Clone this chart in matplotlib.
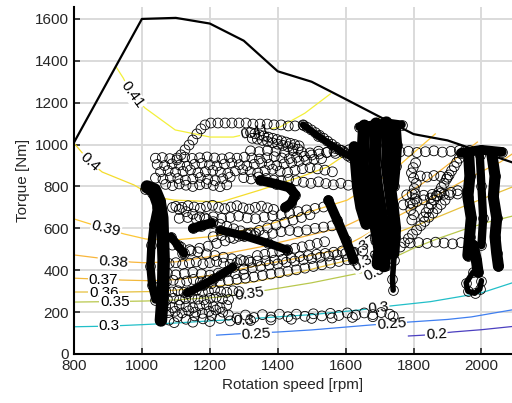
import numpy as np
import matplotlib.pyplot as plt

plt.rcParams['font.family'] = ['Liberation Sans', 'DejaVu Sans']

# full load (max torque) curve
max_rpm = [800, 1000, 1100, 1200, 1300, 1400, 1500, 1600, 1700, 1800, 1900, 2000, 2100]
max_nm = [1010, 1600, 1605, 1578, 1496, 1350, 1300, 1217, 1133, 1050, 1020, 965, 910]

# iso-efficiency lines (rpm, Nm)
levels = [0.2, 0.25, 0.3, 0.35, 0.36, 0.37, 0.38, 0.39, 0.4, 0.41]
eff_colors = ['#4b3fc0', '#3f7ff0', '#22bfc8', '#b9c84e', '#e6c03e',
              '#f2b83a', '#f8b63c', '#fcc636', '#f4dc2c', '#f3f03a']
eff_rpm = [
    [1785, 1830, 1915, 2000, 2095],
    [1220, 1300, 1400, 1500, 1670, 1790, 1900, 1970, 2095],
    [800, 900, 1000, 1100, 1200, 1350, 1500, 1640, 1730, 1850, 1930, 2000, 2095],
    [800, 900, 1010, 1100, 1230, 1372, 1500, 1652, 1741, 1800, 1870, 1950, 2020, 2095],
    [800, 890, 948, 1021, 1100, 1200, 1328, 1450, 1550, 1673, 1732, 1850, 1970, 2095],
    [800, 942, 1021, 1100, 1200, 1348, 1450, 1575, 1650, 1732, 1850, 1950, 2056, 2095],
    [800, 968, 1006, 1100, 1200, 1348, 1593, 1732, 1850, 1988],
    [800, 895, 948, 1012, 1100, 1200, 1348, 1605, 1732, 1864],
    [800, 847, 883, 977, 1036, 1095, 1233, 1348, 1466, 1546, 1634, 1700],
    [924, 945, 971, 1009, 1098, 1201, 1269, 1334, 1407, 1480, 1555],
]
eff_nm = [
    [86, 90, 105, 116, 132],
    [90, 98, 105, 115, 138, 153, 165, 177, 212],
    [130, 133, 140, 148, 158, 172, 188, 210, 229, 250, 272, 292, 342],
    [248, 250, 253, 258, 272, 306, 340, 390, 460, 505, 550, 595, 630, 660],
    [296, 296, 296, 298, 305, 320, 344, 385, 425, 473, 568, 640, 720, 800],
    [362, 353, 350, 355, 375, 425, 455, 497, 560, 640, 740, 830, 917, 960],
    [473, 439, 436, 440, 465, 511, 606, 712, 840, 1012],
    [645, 597, 573, 549, 545, 560, 606, 735, 864, 1051],
    [1007, 917, 869, 807, 750, 735, 726, 783, 845, 893, 989, 1130],
    [1371, 1318, 1237, 1175, 1070, 1036, 1036, 1060, 1084, 1150, 1242],
]

# contour labels: text, rpm, Nm, rotation
lab_text = ['0.41', '0.41', '0.4', '0.39', '0.38', '0.37', '0.36', '0.35', '0.3',
            '0.35', '0.3', '0.25', '0.3', '0.25', '0.2', '0.37', '0.36', '0.35']
lab_rpm = [971, 1334, 847, 894, 915, 886, 888, 920, 903,
           1316, 1301, 1337, 1696, 1735, 1867, 1652, 1660, 1696]
lab_nm = [1237, 1060, 917, 597, 440, 353, 291, 248, 134,
          287, 158, 96, 220, 143, 91, 515, 445, 398]
lab_rot = [-54, 12, -42, -14, -4, 0, 0, 0, 0,
           8, 2, 3, 6, 4, 3, 35, 30, 25]

# measured operating points (single circles)
pts_rpm = [
    # upper arc
    1103, 1115, 1127, 1139, 1150, 1162, 1174, 1186, 1203, 1224, 1245, 1265,
    1286, 1307, 1327, 1348, 1369, 1389, 1410, 1431, 1451,
    # band under the arc
    1320, 1333, 1346, 1359, 1372, 1385, 1398, 1411, 1424, 1437, 1450, 1463,
    1325, 1340, 1355, 1370, 1385, 1400, 1415, 1430, 1445, 1460,
    1475, 1487, 1499, 1511, 1523, 1535, 1547, 1559, 1571, 1583, 1595, 1607,
    # rows near 930 Nm
    1040, 1060, 1082, 1104, 1126, 1148, 1170, 1192, 1214, 1236, 1258, 1280,
    1302, 1324, 1346, 1368, 1390, 1412, 1434, 1456, 1478, 1500, 1522, 1544,
    1566, 1588, 1610, 1632,
    1045, 1067, 1089, 1111, 1133, 1155, 1177, 1199, 1221, 1243, 1265, 1287,
    1309, 1331, 1353, 1375, 1397, 1419, 1441, 1463, 1485, 1507, 1529,
    1055, 1077, 1099, 1121, 1143, 1165, 1187, 1209, 1231, 1253, 1275, 1297,
    1319, 1341, 1363, 1385, 1407, 1429, 1451, 1473, 1495, 1517, 1539, 1561,
    1040, 1062, 1084, 1106, 1128, 1150, 1172, 1194, 1216, 1238, 1260,
    1070, 1090, 1110, 1130, 1150, 1170, 1190, 1210, 1230, 1250,
    # row near 970 Nm
    1320, 1345, 1370, 1395, 1420, 1445, 1470, 1495, 1520, 1545, 1570, 1595,
    1620, 1760, 1785, 1810, 1835, 1860, 1885, 1910, 1935, 1950, 1965,
    # middle rows
    1300, 1322, 1344, 1366, 1388, 1410, 1432, 1454, 1476, 1498, 1520, 1542,
    1564, 1586, 1608,
    1100, 1118, 1136, 1154, 1172, 1190, 1208, 1226, 1244, 1262, 1280, 1298,
    1316, 1334, 1352, 1370, 1388,
    1110, 1135, 1160, 1185, 1210, 1235, 1260, 1285, 1310, 1335, 1360, 1385,
    1410, 1435, 1460, 1485, 1510, 1535,
    1210, 1235, 1260, 1285, 1310, 1335, 1360, 1385, 1410, 1435, 1460, 1485,
    1510, 1535, 1560,
    1340, 1362, 1384, 1406, 1428, 1450, 1472, 1494, 1516, 1538,
    1090, 1110, 1130, 1150, 1170, 1190, 1210, 1230, 1250, 1270, 1290, 1310, 1330,
    1120, 1145, 1170, 1195, 1220, 1245, 1270, 1295, 1320, 1345, 1370, 1395, 1420,
    1445, 1470, 1495,
    1090, 1115, 1140, 1165, 1190, 1215, 1240, 1265, 1290, 1315, 1340, 1365, 1390,
    1415, 1440, 1465, 1490, 1515, 1540, 1565, 1590,
    1080, 1100, 1120, 1140, 1160, 1180, 1200, 1220, 1240, 1260, 1280, 1300, 1320,
    1075, 1100, 1125, 1150, 1175, 1200, 1225, 1250, 1275, 1300,
    1180, 1205, 1230, 1255, 1280, 1305, 1330, 1355, 1380, 1405, 1430, 1455, 1480,
    1505, 1530, 1555, 1580, 1605,
    1300, 1325, 1350, 1375, 1400, 1425, 1450, 1475, 1500, 1525, 1550, 1575, 1600,
    1625, 1650,
    # part load rows
    1070, 1088, 1106, 1124, 1142, 1160, 1178, 1196, 1214, 1232, 1250, 1268, 1286,
    1075, 1093, 1111, 1129, 1147, 1165, 1183, 1201, 1219, 1237, 1255,
    1070, 1090, 1110, 1130, 1150, 1170, 1190, 1210, 1230, 1250,
    1072, 1092, 1112, 1132, 1152, 1172, 1192, 1212,
    1078, 1098, 1118, 1138, 1158, 1178, 1198, 1218, 1238,
    # low load rows
    1080, 1105, 1130, 1155, 1180, 1205, 1230, 1255, 1280, 1305, 1330, 1355, 1380,
    1405, 1430, 1455, 1480, 1505, 1530, 1555, 1580, 1605, 1630, 1655, 1680, 1705,
    1730,
    1095, 1150, 1200, 1260, 1320, 1380, 1440, 1500, 1560, 1620, 1680, 1740,
    # between the two high speed clusters
    1790, 1815, 1840, 1865, 1890, 1915, 1940,
    1770, 1790, 1810, 1830, 1850, 1870, 1890, 1910, 1930,
    1780, 1805, 1830, 1855, 1880, 1905, 1930,
    1830, 1845, 1860, 1875, 1890, 1905, 1920, 1935,
    1837, 1852, 1867, 1882, 1897, 1912, 1927,
    1795, 1800, 1792, 1798, 1805, 1796, 1802, 1808, 1800, 1794, 1799, 1806,
    1761, 1773, 1785, 1797, 1809, 1821, 1833, 1845, 1857, 1869, 1881, 1893,
    1820, 1840, 1860, 1880, 1900,
]
pts_nm = [
    927, 951, 975, 998, 1022, 1051, 1075, 1094, 1103, 1103, 1103, 1103,
    1103, 1103, 1098, 1098, 1098, 1094, 1094, 1089, 1089,
    1058, 1052, 1046, 1041, 1036, 1030, 1024, 1018, 1012, 1006, 1000, 994,
    1030, 1026, 1020, 1015, 1008, 1002, 996, 990, 984, 978,
    1094, 1082, 1070, 1057, 1044, 1030, 1016, 1002, 988, 974, 960, 946,
    935, 938, 933, 936, 940, 934, 937, 941, 936, 932, 938, 935,
    940, 936, 931, 937, 942, 936, 933, 939, 944, 950, 955, 962,
    968, 972, 975, 978,
    905, 900, 908, 902, 897, 906, 911, 903, 898, 907, 912, 904,
    899, 906, 913, 905, 900, 908, 914, 920, 926, 930, 933,
    870, 876, 868, 872, 879, 865, 871, 877, 869, 862, 874, 880,
    871, 864, 876, 882, 873, 867, 878, 885, 890, 884, 878, 870,
    840, 835, 842, 838, 830, 836, 843, 834, 828, 837, 845,
    810, 804, 812, 806, 800, 808, 814, 805, 799, 808,
    970, 966, 972, 968, 962, 970, 965, 960, 968, 963, 958, 966,
    960, 965, 968, 962, 966, 970, 964, 968, 972, 968, 972,
    842, 836, 845, 838, 830, 826, 834, 828, 820, 815, 822, 814,
    808, 815, 806,
    705, 700, 708, 702, 696, 704, 710, 700, 694, 702, 708, 698,
    692, 700, 706, 698, 690,
    648, 652, 645, 650, 655, 648, 652, 658, 650, 646, 654, 660,
    665, 672, 680, 688, 695, 702,
    560, 566, 556, 562, 570, 575, 568, 576, 584, 590, 584, 592,
    600, 606, 612,
    470, 476, 484, 490, 498, 505, 512, 520, 528, 536,
    700, 690, 680, 668, 655, 645, 632, 620, 610, 598, 588, 576, 565,
    480, 492, 505, 515, 528, 540, 552, 565, 578, 590, 602, 615, 628,
    640, 652, 665,
    520, 510, 498, 488, 478, 470, 462, 455, 450, 446, 444, 445, 448,
    452, 458, 465, 470, 476, 480, 486, 492,
    432, 436, 428, 434, 440, 430, 436, 442, 434, 428, 436, 444, 438,
    385, 378, 384, 390, 382, 376, 386, 392, 384, 380,
    330, 336, 342, 350, 356, 362, 368, 375, 382, 388, 395, 402, 410,
    418, 426, 434, 442, 450,
    405, 412, 418, 425, 430, 438, 444, 450, 456, 462, 468, 474, 480,
    486, 492,
    300, 296, 302, 294, 298, 304, 296, 300, 306, 298, 294, 302, 298,
    262, 266, 258, 264, 270, 262, 258, 266, 272, 264, 260,
    228, 222, 232, 226, 220, 230, 236, 226, 222, 232,
    345, 352, 340, 348, 356, 344, 350, 358,
    198, 204, 196, 206, 200, 194, 204, 210, 200,
    162, 178, 166, 182, 168, 184, 170, 186, 172, 186, 174, 188, 176,
    190, 178, 190, 180, 192, 182, 194, 184, 196, 186, 196, 188, 198,
    190,
    150, 152, 155, 158, 160, 163, 166, 170, 172, 175, 178, 180,
    530, 532, 528, 534, 530, 526, 532,
    712, 720, 728, 736, 745, 754, 763, 772, 780,
    760, 765, 758, 762, 768, 760, 764,
    654, 695, 735, 775, 815, 855, 895, 935,
    675, 715, 755, 795, 835, 875, 915,
    640, 665, 690, 715, 740, 765, 790, 815, 840, 865, 890, 912,
    511, 531, 551, 572, 592, 613, 633, 653, 673, 694, 714, 735,
    850, 845, 852, 848, 844,
]

# densely packed runs of points (drawn as solid strokes)
run_rpm = [
    [1056, 1060, 1063, 1064, 1062, 1060, 1052, 1038, 1015],
    [1040, 1030, 1025, 1028, 1035, 1045, 1030, 1010],
    [1150, 1175, 1205],
    [1086, 1105, 1124],
    [1348, 1395, 1435, 1452, 1440, 1422],
    [1230, 1300, 1370, 1428],
    [1549, 1575, 1600, 1623],
    [1133, 1180, 1230, 1269],
    [1625, 1630, 1635, 1645, 1660],
    [1655, 1652, 1650, 1660, 1675, 1690, 1700, 1695],
    [1690, 1688, 1685, 1692, 1702, 1712, 1718, 1712],
    [1720, 1725, 1722, 1730, 1738, 1745, 1740],
    [1748, 1752, 1748, 1742],
    [1745, 1742, 1738, 1740],
    [1640, 1720, 1765],
    [1940, 2000, 2060],
    [1962, 1966, 1960, 1970, 1965, 1960],
    [1995, 2000, 2005, 2000],
    [2030, 2040, 2035, 2045, 2040, 2045, 2050],
    [1975, 1985, 1990],
    [1975, 1955, 1960, 1980, 1995, 2000],
    [1475, 1520, 1570, 1614],
]
run_nm = [
    [160, 250, 350, 450, 550, 650, 730, 785, 800],
    [260, 330, 420, 520, 620, 700, 770, 790],
    [600, 612, 625],
    [560, 520, 480],
    [830, 812, 795, 760, 720, 700],
    [592, 565, 530, 497],
    [735, 640, 545, 450],
    [291, 330, 375, 415],
    [990, 900, 800, 700, 620],
    [1090, 1000, 900, 800, 700, 600, 500, 430],
    [1100, 1000, 900, 800, 700, 600, 500, 420],
    [1105, 1000, 900, 800, 700, 600, 480],
    [1090, 1000, 900, 800],
    [560, 450, 360, 305],
    [1085, 1105, 1095],
    [960, 975, 965],
    [960, 850, 750, 650, 560, 470],
    [950, 800, 650, 520],
    [960, 850, 750, 650, 560, 480, 420],
    [520, 450, 390],
    [390, 340, 300, 290, 310, 350],
    [1094, 1040, 985, 941],
]
run_width = [9, 6, 7, 6, 7, 6, 7, 6, 8, 9, 9, 9, 7, 4, 6, 7, 8, 6, 8, 8, 4, 5]

fig = plt.figure(figsize=(5.12, 4.03), dpi=100)
ax = fig.add_axes([0.1445, 0.1216, 0.8555, 0.8600])

for i in range(len(levels)):
    ax.plot(eff_rpm[i], eff_nm[i], color=eff_colors[i], lw=0.9, zorder=2)

for t, x, y, r in zip(lab_text, lab_rpm, lab_nm, lab_rot):
    ax.text(x, y, t, fontsize=11, rotation=r, ha='center', va='center', zorder=3,
            bbox=dict(facecolor='white', edgecolor='none', pad=0.5))

ax.plot(max_rpm, max_nm, color='k', lw=1.6, zorder=6)

ax.scatter(pts_rpm, pts_nm, s=50, facecolors='none', edgecolors='k', linewidths=0.6, zorder=5)
for xr, yr, w in zip(run_rpm, run_nm, run_width):
    ax.plot(xr, yr, color='k', lw=w, solid_capstyle='round', solid_joinstyle='round',
            marker='o', ms=7, mfc='none', mec='k', mew=0.6, zorder=5)

ax.set_xlim(800, 2090)
ax.set_ylim(0, 1655)
ax.set_xticks(range(800, 2100, 200))
ax.set_yticks(range(0, 1700, 200))
ax.grid(True, color='#dadada', lw=1.4)
ax.set_axisbelow(True)
for s in ['top', 'right']:
    ax.spines[s].set_visible(False)
for s in ['left', 'bottom']:
    ax.spines[s].set_linewidth(1.5)
ax.tick_params(direction='in', length=4, width=1.2, labelsize=11, colors='#262626')
ax.set_xlabel('Rotation speed [rpm]', fontsize=11, color='#262626')
ax.set_ylabel('Torque [Nm]', fontsize=11, color='#262626')

fig.savefig('out.png', dpi=100)
